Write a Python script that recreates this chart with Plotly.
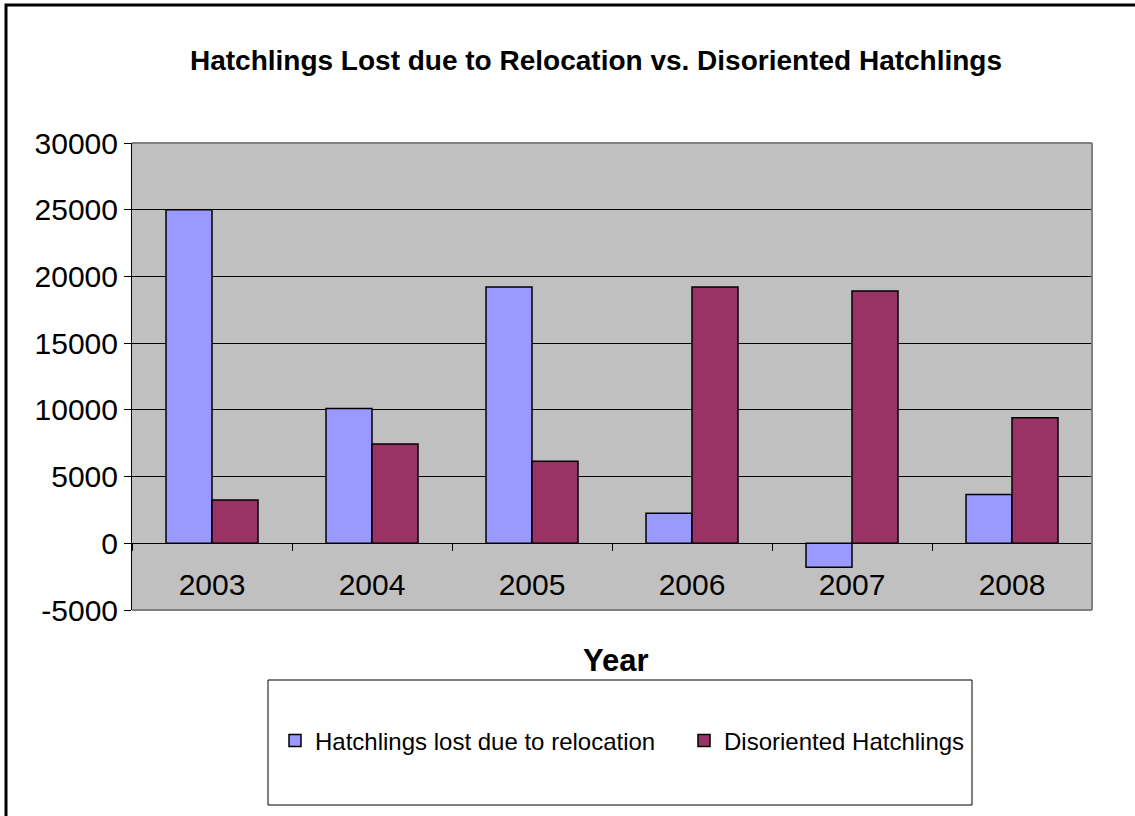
import plotly.graph_objects as go

years = ["2003", "2004", "2005", "2006", "2007", "2008"]
lost_relocation = [25000, 10100, 19200, 2250, -1800, 3650]
disoriented = [3250, 7450, 6150, 19200, 18900, 9400]
y_tick_values = [-5000, 0, 5000, 10000, 15000, 20000, 25000, 30000]
y_tick_labels = ["-5000", "0", "5000", "10000", "15000", "20000", "25000", "30000"]

W, H = 1135, 816
L, R, T, B = 132, 1092, 143, 610  # plot area in pixels


def px_x(p):
    return (p - L) / (R - L)


def px_y(p):
    return (B - p) / (B - T)


FONT = "Liberation Sans, Arial, sans-serif"

fig = go.Figure()
fig.add_trace(go.Bar(
    x=years, y=lost_relocation, name="Hatchlings lost due to relocation",
    marker=dict(color="#9999FF", line=dict(color="black", width=1.5)),
))
fig.add_trace(go.Bar(
    x=years, y=disoriented, name="Disoriented Hatchlings",
    marker=dict(color="#993366", line=dict(color="black", width=1.5)),
))

shapes = [
    # plot area border (top, right, bottom)
    dict(type="line", xref="paper", yref="paper", x0=0, x1=1, y0=1, y1=1,
         line=dict(color="#808080", width=2), layer="above"),
    dict(type="line", xref="paper", yref="paper", x0=1, x1=1, y0=0, y1=1,
         line=dict(color="#808080", width=2), layer="above"),
    dict(type="line", xref="paper", yref="paper", x0=0, x1=1, y0=0, y1=0,
         line=dict(color="#808080", width=2), layer="above"),
    # legend box
    dict(type="rect", xref="paper", yref="paper",
         x0=px_x(268), x1=px_x(972), y0=px_y(805), y1=px_y(680),
         line=dict(color="black", width=1), fillcolor="white", layer="below"),
    # outer chart frame
    dict(type="rect", xref="paper", yref="paper",
         x0=px_x(6), x1=px_x(1145), y0=px_y(830), y1=px_y(5),
         line=dict(color="black", width=3), fillcolor="rgba(0,0,0,0)"),
]

fig.update_layout(
    width=W, height=H,
    margin=dict(l=L, r=W - R, t=T, b=H - B, pad=0, autoexpand=False),
    paper_bgcolor="white",
    plot_bgcolor="#C0C0C0",
    barmode="group", bargap=0.425, bargroupgap=0,
    font=dict(family=FONT, color="black"),
    title=dict(
        text="<b>Hatchlings Lost due to Relocation vs. Disoriented Hatchlings</b>",
        font=dict(size=28, family=FONT, color="black"),
        x=px_x(596), xanchor="center", xref="paper",
        y=1 - 60 / H, yanchor="middle", yref="container",
    ),
    xaxis=dict(
        type="category", anchor="free", position=5000 / 35000,
        showgrid=False, showline=True, linecolor="black", linewidth=1,
        ticks="outside", tickson="boundaries", ticklen=7, tickcolor="black",
        tickfont=dict(size=30, family=FONT), ticklabelstandoff=15,
        title=None,
    ),
    yaxis=dict(
        range=[-5000, 30000],
        tickmode="array", tickvals=y_tick_values, ticktext=y_tick_labels,
        showgrid=True, gridcolor="black", gridwidth=1,
        zeroline=True, zerolinecolor="black", zerolinewidth=1,
        showline=True, linecolor="black", linewidth=1,
        ticks="outside", ticklen=7, tickcolor="black",
        tickfont=dict(size=30, family=FONT),
    ),
    legend=dict(
        orientation="h", x=px_x(275), xanchor="left",
        y=px_y(741), yanchor="middle",
        bgcolor="rgba(0,0,0,0)", borderwidth=0,
        font=dict(size=24, family=FONT), itemwidth=30,
        entrywidth=364, entrywidthmode="pixels",
        tracegroupgap=0,
    ),
    shapes=shapes,
    annotations=[dict(
        text="<b>Year</b>", xref="paper", yref="paper",
        x=px_x(616), y=px_y(660), xanchor="center", yanchor="middle",
        showarrow=False, font=dict(size=31, family=FONT, color="black"),
    )],
)

fig.write_html("out.html")
